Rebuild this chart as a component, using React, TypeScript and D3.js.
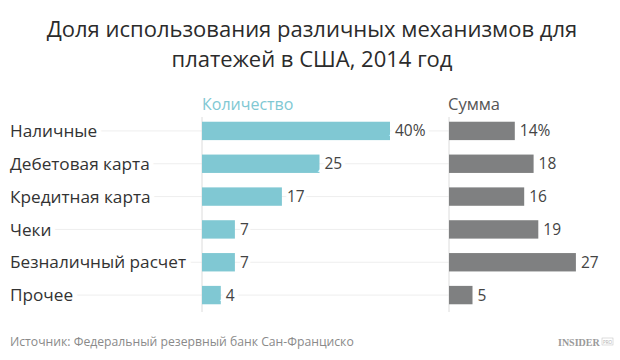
import React from "react";
import * as d3 from "d3";

const categories = ["Наличные", "Дебетовая карта", "Кредитная карта", "Чеки", "Безналичный расчет", "Прочее"];
const countValues = [40, 25, 17, 7, 7, 4];
const sumValues = [14, 18, 16, 19, 27, 5];
const titleLines = ["Доля использования различных механизмов для", "платежей в США, 2014 год"];
const seriesNames = ["Количество", "Сумма"];
const sourceText = "Источник: Федеральный резервный банк Сан-Франциско";

const W = 620;
const H = 360;
const FONT = "'Open Sans', 'Noto Sans', sans-serif";
const TEAL = "#80c8d3";
const GRAY = "#7f8081";

export default function App() {
  const y = d3.scaleBand<string>().domain(categories).range([114.5, 311.5]).paddingInner(0.44).paddingOuter(0.22);
  const x = d3.scaleLinear().domain([0, 40]).range([0, 188]);
  const x0a = 202;
  const x0b = 449;
  const bw = y.bandwidth();
  const fmt = (v: number, i: number) => (i === 0 ? `${v}%` : `${v}`);

  return (
    <svg width={W} height={H} style={{ position: "absolute", left: 0, top: 0, background: "#fff" }}>
      <rect width={W} height={H} fill="#fff" />
      {titleLines.map((t, i) => (
        <text key={i} x={312} y={37 + i * 30} textAnchor="middle" fontFamily={FONT} fontSize={22} fill="#2b2b2b">
          {t}
        </text>
      ))}
      {categories.map((c) => (
        <line key={c} x1={10} x2={x0b} y1={(y(c) as number) + bw / 2} y2={(y(c) as number) + bw / 2} stroke="#eeeeee" strokeWidth={1} />
      ))}
      <line x1={x0a} x2={x0a} y1={117} y2={312} stroke="#dcdcdc" />
      <line x1={x0b} x2={x0b} y1={117} y2={312} stroke="#dcdcdc" />
      <text x={x0a} y={110} fontFamily={FONT} fontSize={16} fill={TEAL}>{seriesNames[0]}</text>
      <text x={x0b - 1} y={110} fontFamily={FONT} fontSize={16.5} fill="#555">{seriesNames[1]}</text>
      {categories.map((c, i) => {
        const yy = y(c) as number;
        const cy = yy + bw / 2;
        return (
          <g key={c}>
            <text x={10} y={cy} dy="0.36em" fontFamily={FONT} fontSize={17.2} fill="#333" stroke="#fff" strokeWidth={10} paintOrder="stroke">
              {c}
            </text>
            <rect x={x0a} y={yy} width={x(countValues[i])} height={bw} fill={TEAL} />
            <text x={x0a + x(countValues[i]) + 5} y={cy} dy="0.36em" fontFamily={FONT} fontSize={15.5} fill="#444" stroke="#fff" strokeWidth={8} paintOrder="stroke">
              {fmt(countValues[i], i)}
            </text>
            <rect x={x0b} y={yy} width={x(sumValues[i])} height={bw} fill={GRAY} />
            <text x={x0b + x(sumValues[i]) + 5} y={cy} dy="0.36em" fontFamily={FONT} fontSize={15.5} fill="#444">
              {fmt(sumValues[i], i)}
            </text>
          </g>
        );
      })}
      <text x={10} y={346} fontFamily={FONT} fontSize={12.2} fill="#8a8a8a">{sourceText}</text>
      <text x={558} y={346} fontFamily="'Liberation Serif', serif" fontWeight="bold" fontSize={10} fill="#9a9a9a">INSIDER</text>
      <rect x={602} y={338} width={11} height={7} fill="none" stroke="#bbb" strokeWidth={0.5} />
      <text x={607.5} y={343.5} textAnchor="middle" fontFamily={FONT} fontSize={4.5} fill="#aaa">PRO</text>
    </svg>
  );
}
